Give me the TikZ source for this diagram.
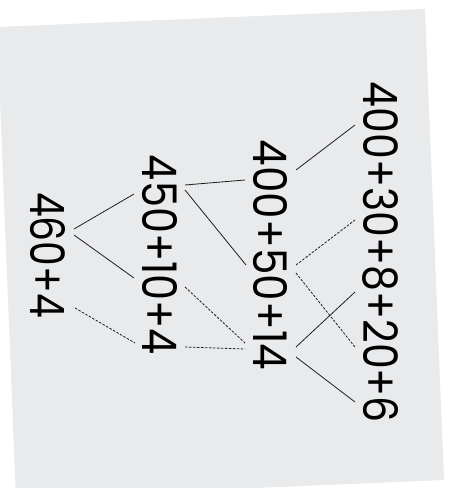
\documentclass[tikz,border=0pt]{standalone}
\usepackage{fontspec}
\setmainfont{Poppins}
\usetikzlibrary{calc}
\definecolor{paper}{RGB}{233,234,236}
\definecolor{ink}{RGB}{30,30,30}
\begin{document}
\begin{tikzpicture}[x=1pt,y=-1pt,
  expr/.style={rotate=-90, inner sep=0pt, anchor=center, text=black},
  link/.style={line width=0.8pt, draw=ink},
  dlink/.style={link, dash pattern=on 2.5pt off 1.5pt}]
\useasboundingbox (0,0) rectangle (448,488);
\clip (0,0) rectangle (448,488);
\fill[paper] (-3,27) -- (425,9) -- (444,480) -- (16,498) -- cycle;
% expressions
\node[expr] (e1) at (380.5,252.5) {\resizebox{341pt}{35pt}{400+30+8+20+6}};
\node[expr] (e2) at (270,255) {\resizebox{230pt}{34pt}{400+50+14}};
\node[expr] (e3) at (159.5,255) {\resizebox{200pt}{35pt}{450+10+4}};
\node[expr] (e4) at (47.5,255) {\resizebox{126pt}{35pt}{460+4}};
% attachment points
\coordinate (c1a) at (355,125);
\coordinate (c1b) at (355,220);
\coordinate (c1c) at (355,347);
\coordinate (c1d) at (355,292);
\coordinate (c1e) at (355,402);
\coordinate (c2a) at (296,170);
\coordinate (c2b) at (245,180);
\coordinate (c2c) at (246,265);
\coordinate (c2d) at (296,347);
\coordinate (c2e) at (296,357);
\coordinate (c2f) at (296,265);
\coordinate (c2g) at (296,273);
\coordinate (c2h) at (245,343);
\coordinate (c2i) at (245,349);
\coordinate (c3a) at (185,185);
\coordinate (c3b) at (185,190);
\coordinate (c3c) at (134,194);
\coordinate (c3d) at (134,278);
\coordinate (c3e) at (185,287);
\coordinate (c3f) at (185,347);
\coordinate (c3g) at (135,343);
\coordinate (c4a) at (74,229);
\coordinate (c4b) at (74,235);
\coordinate (c4c) at (75,308);
% solid connectors
\draw[link] (c1a) -- (c2a);
\draw[link] (c3a) -- (c2b);
\draw[link] (c3b) -- (c2c);
\draw[link] (c4a) -- (c3c);
\draw[link] (c4b) -- (c3d);
\draw[link] (c2d) -- (c1d);
\draw[link] (c2e) -- (c1e);
% dashed connectors
\draw[dlink] (c2f) -- (c1b);
\draw[dlink] (c2g) -- (c1c);
\draw[dlink] (c3e) -- (c2h);
\draw[dlink] (c3f) -- (c2i);
\draw[dlink] (c4c) -- (c3g);
\end{tikzpicture}
\end{document}
